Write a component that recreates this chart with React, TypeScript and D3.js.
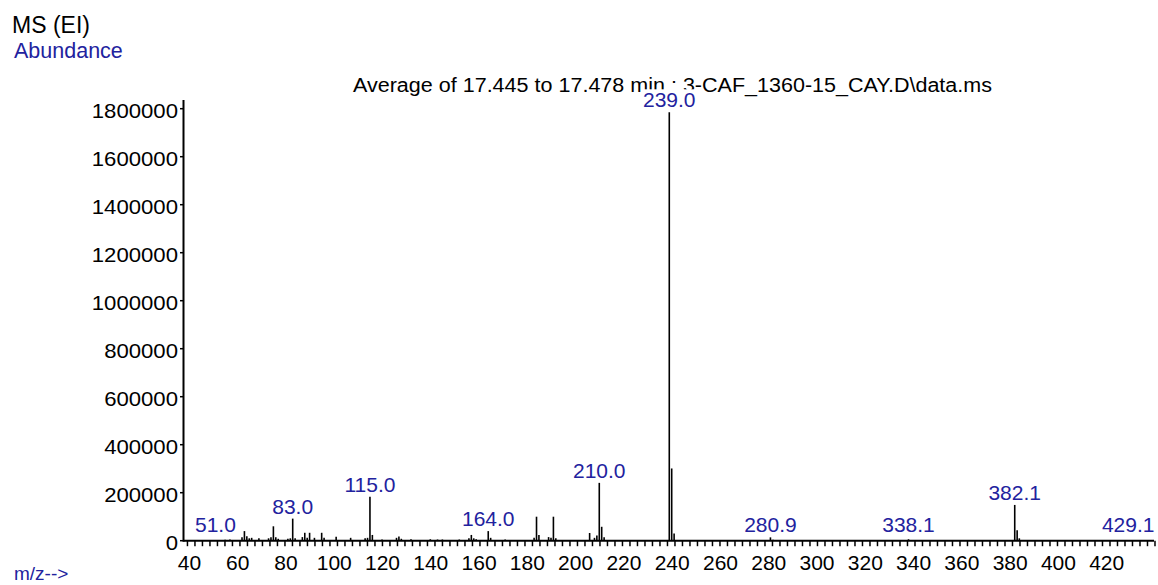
import React from "react";
import * as d3 from "d3";

// ---- data ----
const peakMz: number[] = [
  51, 55, 57, 62, 63, 64, 65, 66, 69, 73, 74, 75, 76, 77, 81, 82, 83, 84, 87, 88, 89, 90, 92, 95, 96,
  101, 107, 113, 114, 115, 116, 120, 126, 127, 128, 132, 140, 143, 145, 152, 156, 157, 158, 159,
  164, 165, 171, 183, 184, 185, 189, 190, 191, 192, 206, 208, 209, 210, 211, 212, 239, 240, 241,
  280.9, 282, 338.1, 382.1, 383.1, 384, 429.1,
];
const peakAbundance: number[] = [
  3000, 4000, 5000, 14000, 40000, 19000, 10000, 12000, 10000, 10000, 14000, 60000, 14000, 8000, 8000, 10000, 92000, 10000, 15000, 33000, 12000, 33000, 12000, 33000, 12000,
  16000, 12000, 10000, 12000, 183000, 24000, 5000, 12000, 18000, 8000, 6000, 6000, 5000, 5000, 5000, 10000, 24000, 10000, 6000,
  40000, 12000, 5000, 12000, 100000, 24000, 15000, 12000, 100000, 10000, 32000, 12000, 22000, 241000, 58000, 14000, 1785000, 301000, 30000,
  14000, 4000, 6000, 149000, 44000, 10000, 2000,
];
const labelMz: number[] = [51.0, 83.0, 115.0, 164.0, 210.0, 239.0, 280.9, 338.1, 382.1, 429.1];
const yTickValues: number[] = d3.range(0, 1800001, 200000);
const xTickLabels: number[] = d3.range(40, 421, 20);
const minorStep = 3.107;
const minorStart = 39.4;
const titleText = "Average of 17.445 to 17.478 min : 3-CAF_1360-15_CAY.D\\data.ms";

const W = 1158;
const H = 585;
const FONT = "'Liberation Sans', Arial, Helvetica, sans-serif";
const BLUE = "#22229e";

export default function App() {
  const x = d3.scaleLinear().domain([40, 440]).range([188.9, 1154.5]);
  const y = d3.scaleLinear().domain([0, 1800000]).range([540.7, 108.7]);
  const base = y(0);
  const axisX = 183.5;
  const minorTicks = d3.range(minorStart, 440.5, minorStep);

  const abundanceOf = (m: number) => {
    const i = peakMz.findIndex((p) => Math.abs(p - m) < 0.01);
    return i >= 0 ? peakAbundance[i] : 0;
  };

  return (
    <svg
      width={W}
      height={H}
      style={{ position: "absolute", left: 0, top: 0, display: "block", background: "#fff" }}
      fontFamily={FONT}
    >
      <rect x={0} y={0} width={W} height={H} fill="#fff" />
      <text x={12} y={32.5} fontSize={23} fill="#000">MS (EI)</text>
      <text x={14} y={57.5} fontSize={21.5} fill={BLUE}>Abundance</text>
      <text x={14} y={580} fontSize={19} fill={BLUE}>m/z--&gt;</text>

      <text x={353} y={92} fontSize={19.5} fill="#000" textLength={639} lengthAdjust="spacingAndGlyphs">
        {titleText}
      </text>

      {/* peaks */}
      <g stroke="#000" strokeWidth={1.6}>
        {peakMz.map((m, i) => (
          <line key={i} x1={x(m)} x2={x(m)} y1={base} y2={y(peakAbundance[i])} />
        ))}
      </g>

      {/* axes */}
      <line x1={axisX} x2={axisX} y1={100} y2={base + 1} stroke="#000" strokeWidth={2} />
      <line x1={axisX} x2={1154} y1={base} y2={base} stroke="#000" strokeWidth={2} />
      <g stroke="#000" strokeWidth={1.5}>
        {minorTicks.map((t, i) => (
          <line key={i} x1={x(t)} x2={x(t)} y1={base} y2={base + 5.5} />
        ))}
        {yTickValues.map((t, i) => (
          <line key={i} x1={axisX - 3.5} x2={axisX} y1={y(t)} y2={y(t)} />
        ))}
      </g>
      <g fontSize={20.5} fill="#000" textAnchor="end">
        {yTickValues.map((t, i) => (
          <text key={i} x={178} y={y(t) + 9} transform={`translate(178,0) scale(1.08,1) translate(-178,0)`}>
            {t}
          </text>
        ))}
      </g>
      <g fontSize={21} fill="#000" textAnchor="middle">
        {xTickLabels.map((t, i) => (
          <text key={i} x={x(t) + 0.5} y={569.5}>{t}</text>
        ))}
      </g>

      {/* peak labels */}
      <g fontSize={21} fill={BLUE} textAnchor="middle">
        {labelMz.map((m, i) => {
          const top = y(abundanceOf(m));
          const bottom = Math.min(top - 5, base - 9);
          const lbl = m.toFixed(1);
          const w = lbl.length * 10.6;
          return (
            <g key={i}>
              <rect x={x(m) - w / 2} y={bottom - 18} width={w} height={19} fill="#fff" />
              <text x={x(m)} y={bottom}>{lbl}</text>
            </g>
          );
        })}
      </g>
    </svg>
  );
}
